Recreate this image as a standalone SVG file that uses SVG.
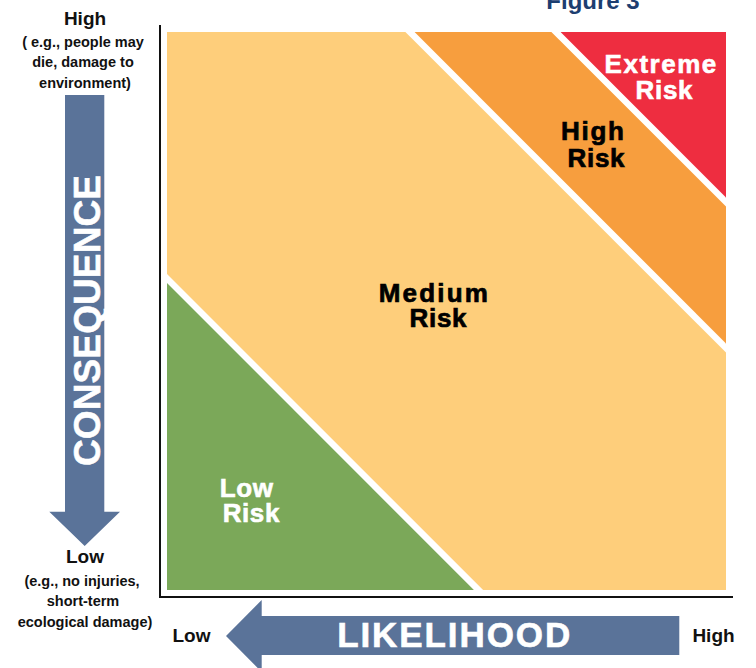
<svg xmlns="http://www.w3.org/2000/svg" width="756" height="668" viewBox="0 0 756 668">
  <style>
    .lbl { font-family: "Liberation Sans", Arial, sans-serif; font-weight: bold; text-anchor: middle; }
    .zone { font-size: 26px; stroke-width: 0.7; }
    .dark { fill: #000; stroke: #000; }
    .big { fill: #fff; stroke: #fff; stroke-width: 0.6; }
    .axis-end { font-size: 19px; fill: #111; }
    .note { font-size: 14.5px; fill: #111; }
    .divider { stroke: #fff; stroke-width: 6.5; fill: none; }
    .arrow { fill: #5a7399; }
  </style>
  <defs>
    <clipPath id="matrix-clip">
      <rect x="167" y="32" width="559" height="558"/>
    </clipPath>
  </defs>

  <rect width="756" height="668" fill="#fff"/>

  <!-- title, partly above the top edge -->
  <text class="lbl" x="593" y="8.5" font-size="24" fill="#1d3e70" text-anchor="start">Figure 3</text>

  <!-- risk zones -->
  <g id="risk-matrix" clip-path="url(#matrix-clip)">
    <rect id="medium-zone" x="167" y="32" width="559" height="558" fill="#fece7b"/>
    <polygon id="high-zone" points="410,32 726,32 726,348" fill="#f79e3e"/>
    <polygon id="extreme-zone" points="556,32 726,32 726,202" fill="#ee2d40"/>
    <polygon id="low-zone" points="167,278.5 167,590 478.5,590" fill="#7ba859"/>
    <line class="divider" x1="100" y1="211.5" x2="800" y2="911.5"/>
    <line class="divider" x1="380" y1="2" x2="800" y2="422"/>
    <line class="divider" x1="526" y1="2" x2="800" y2="276"/>
  </g>

  <g id="extreme-risk">
    <text class="lbl zone big">
      <tspan x="664.8" y="72.7" letter-spacing="1.5">Extreme</tspan>
      <tspan x="664.4" y="99" letter-spacing="0.7">Risk</tspan>
    </text>
  </g>
  <g id="high-risk">
    <text class="lbl zone dark">
      <tspan x="597" y="140" letter-spacing="1.7">High</tspan>
      <tspan x="596.4" y="166.7" letter-spacing="0.7">Risk</tspan>
    </text>
  </g>
  <g id="medium-risk">
    <text class="lbl zone dark">
      <tspan x="438.1" y="301.7" letter-spacing="2.2">Medium</tspan>
      <tspan x="438.4" y="326.7" letter-spacing="0.7">Risk</tspan>
    </text>
  </g>
  <g id="low-risk">
    <text class="lbl zone big">
      <tspan x="250.3" y="496.7" letter-spacing="0.6">Low</tspan>
      <tspan x="251.3" y="521.7" letter-spacing="0.6">Risk</tspan>
    </text>
  </g>

  <!-- axes and direction arrows -->
  <g id="connectors">
    <line x1="160" y1="25" x2="160" y2="598" stroke="#111" stroke-width="2"/>
    <line x1="159" y1="597" x2="733" y2="597" stroke="#111" stroke-width="2"/>
    <polygon id="consequence-arrow" class="arrow" points="65,95 104.3,95 104.3,511.7 120,511.7 84.7,546 49.3,511.7 65,511.7"/>
    <polygon id="likelihood-arrow" class="arrow" points="679.3,616 679.3,655 261.7,655 261.7,672 226,636 261.7,600 261.7,616"/>
  </g>

  <g id="consequence-axis">
    <text class="lbl big" font-size="37" transform="translate(100,320.5) rotate(-90)" textLength="291" lengthAdjust="spacing">CONSEQUENCE</text>
    <text class="lbl axis-end" x="85" y="25">High</text>
    <text class="lbl note">
      <tspan x="85" y="47.3">( e.g., people may</tspan>
      <tspan x="85" y="66.7">die, damage to</tspan>
      <tspan x="85" y="87.7">environment)</tspan>
    </text>
    <text class="lbl axis-end" x="85" y="563.3">Low</text>
    <text class="lbl note">
      <tspan x="84" y="586">(e.g., no injuries,</tspan>
      <tspan x="85" y="606">short-term</tspan>
      <tspan x="85" y="626.7">ecological damage)</tspan>
    </text>
  </g>

  <g id="likelihood-axis">
    <text class="lbl big" font-size="35" x="453.7" y="646.7" textLength="233" lengthAdjust="spacing">LIKELIHOOD</text>
    <text class="lbl axis-end" x="191.5" y="641.7">Low</text>
    <text class="lbl axis-end" x="713.5" y="641.7">High</text>
  </g>
</svg>
